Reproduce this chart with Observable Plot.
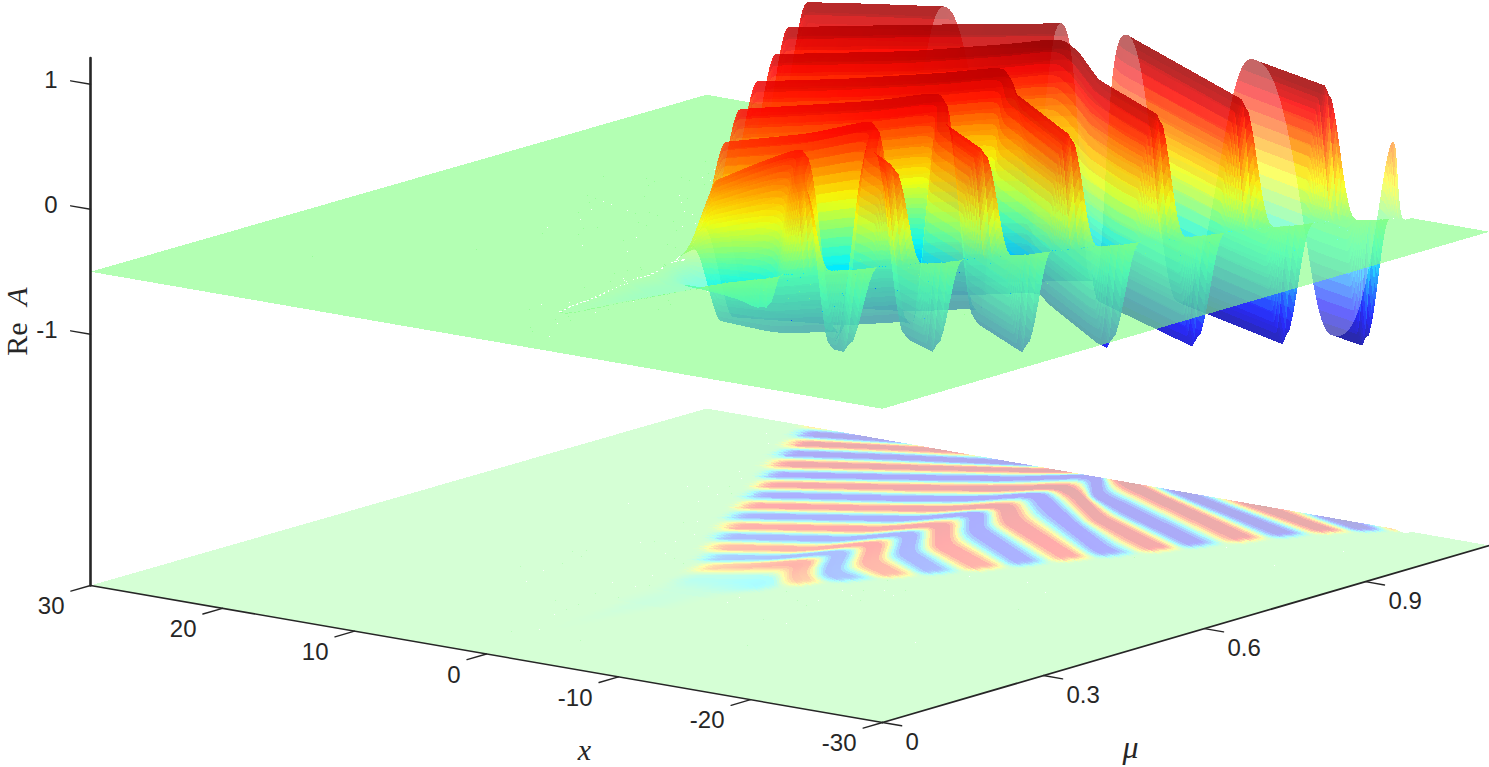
<!doctype html>
<html><head><meta charset="utf-8">
<script src="https://cdn.jsdelivr.net/npm/d3@7"></script>
<script src="https://cdn.jsdelivr.net/npm/@observablehq/plot@0.6"></script>
<style>html,body{margin:0;padding:0;background:#fff}svg{display:block}</style>
</head><body><div id="chart"></div>
<script>
// Axis ticks
const xTicks = [30, 20, 10, 0, -10, -20, -30];
const muTicks = [0, 0.3, 0.6, 0.9];
const zTicks = [1, 0, -1];
const muMax = 1.131;
const zFloor = -3.01;   // level of the lower map
const zPlane = -0.5;    // level of the upper surface at rest
const zTop = 1.21;

// Crests (C) and troughs (T): [x knots], [mu knots], [height Re A]
const base = [[30, -30], [0.06, 0.06], [0, 0]];
const tail = [[30, -30], [0.38, 0.38], [-0.06, -0.06]];
const T8 = [[4, 1, -1, -2.5, -4], [0.44, 0.47, 0.5, 0.46, 0.44], [-0.14, -0.2, -0.3, -0.3, -0.15]];
const C7 = [[3.85, 1.56, -0.08, -1.38, -3.51], [0.506, 0.555, 0.601, 0.545, 0.511], [0.55, 0.72, 0.82, 0.72, 0.6]];
const T7 = [[5.3, 1.89, 0, -2.95, -5], [0.547, 0.594, 0.665, 0.568, 0.555], [-0.6, -0.72, -0.75, -0.72, -0.7]];
const C6 = [[6.85, 1.69, -0.19, -3.19, -6.65], [0.592, 0.651, 0.723, 0.637, 0.601], [0.72, 0.82, 0.88, 0.8, 0.75]];
const T6 = [[8.29, 1.77, -0.27, -3.25, -7.98], [0.64, 0.715, 0.789, 0.703, 0.643], [-0.75, -0.8, -0.82, -0.8, -0.76]];
const C5 = [[9.64, 1.86, -0.3, -3.88, -9.68], [0.685, 0.779, 0.844, 0.756, 0.694], [0.82, 0.92, 0.95, 0.88, 0.82]];
const T5 = [[11.01, 1.94, -0.1, -2.69, -10.84], [0.734, 0.843, 0.917, 0.847, 0.74], [-0.8, -0.85, -0.88, -0.86, -0.84]];
const C4 = [[12.27, 7.01, 2.02, -0.25, -3.32, -12.22], [0.781, 0.844, 0.907, 0.963, 0.9, 0.793], [0.88, 0.92, 0.98, 1, 0.94, 0.86]];
const T4 = [[13.7, 5.25, 2.11, 0.11, -2.29, -11.82, -13.55], [0.832, 0.925, 0.972, 1.034, 0.993, 0.852, 0.835], [-0.85, -0.87, -0.88, -0.9, -0.9, -0.88, -0.87]];
const C3 = [[14.96, 7.18, 2.19, 0.11, -2.06, -6.86, -15.07], [0.878, 0.972, 1.036, 1.077, 1.055, 0.974, 0.89], [0.93, 0.98, 1.05, 1.08, 1.04, 1, 0.95]];
const T3 = [[16.2, 8.84, 3.85, 0.31, -2.84, -15.83], [0.925, 1.013, 1.076, 1.151, 1.067, 0.934], [-0.9, -0.92, -0.94, -0.95, -0.95, -0.94]];
const C2 = [[17.7, 10.5, 2.3, 0.3, -2.05, -17.35], [0.974, 1.054, 1.15, 1.17, 1.143, 0.99], [0.98, 1.03, 1.07, 1.07, 1.07, 0.99]];
const T2 = [[19.1, 12.46, 5.54, 1, -1, -6.21, -18.84], [1.023, 1.089, 1.149, 1.2, 1.2, 1.139, 1.034], [-0.95, -0.97, -1, -1, -1, -1, -1]];
const C1 = [[20.4, 16.4, 11.2, 5, 0, -3, -11.44, -20.34], [1.069, 1.107, 1.152, 1.21, 1.25, 1.22, 1.141, 1.078], [1.02, 1.03, 1.04, 1.05, 1.05, 1.05, 1.05, 1.04]];
const T1 = [[21.7, 16.4, 10, 0, -5, -10, -17.26, -21], [1.115, 1.15, 1.2, 1.3, 1.28, 1.22, 1.141, 1.115], [-1, -1, -1, -1.02, -1.03, -1.04, -1.05, -1.05]];
const C0 = [[23, 16, 0, -10, -22.8], [1.16, 1.2, 1.35, 1.3, 1.134], [1, 1, 1, 1, 0.62]];
const ridges = [base, tail, T8, C7, T7, C6, T6, C5, T5, C4, T4, C3, T3, C2, T2, C1, T1, C0];

// Where the pattern dies away on either side, per mu
const edgeMu = [0.06, 0.25, 0.4, 0.5, 0.59, 0.685, 0.78, 0.88, 0.97, 1.03, 1.07, 1.11, 1.13];
const edgePos = [1.8, 2.3, 3.6, 5.1, 8.1, 10.9, 13.5, 16.2, 19, 20.6, 21.6, 22.7, 23.2];
const edgeNeg = [0.2, -0.6, -2.2, -4.5, -7.6, -10.7, -13.2, -16, -18.2, -19.8, -21, -23, -24.3];

// Jet colour stops
const jetAt = [-1.07, -0.8025, -0.2675, 0.2675, 0.8025, 1.07];
const jetColors = ["#000080", "#0000ff", "#00ffff", "#ffff00", "#ff0000", "#800000"];

// The four corners of the lower map on the view plane
const cornerA = [90, 585], cornerB = [882, 722], cornerC = [1489, 545], cornerD = [706, 408];
const zUnit = 125;

function project(x, mu, z) {
  const u = (x + 30) / 60, v = mu / muMax;
  const w = [(1 - u) * (1 - v), u * (1 - v), (1 - u) * v, u * v];
  const c = [cornerB, cornerA, cornerC, cornerD];
  const sx = d3.sum(c, (p, i) => p[0] * w[i]);
  const sy = d3.sum(c, (p, i) => p[1] * w[i]) - (z - zFloor) * zUnit;
  return [sx, sy];
}

const easeH = t => t * t * t * (t * (6 * t - 15) + 10);
const easeS = t => t * t * (3 - 2 * t);
const ease = t => 0.55 * easeH(t) + 0.45 * easeS(t);
const step = t => easeS(Math.max(0, Math.min(1, t)));
const tCache = new Map();
const tNodes = (n) => {
  if (!tCache.has(n)) tCache.set(n, d3.range(n + 1).map(i => {
    let lo = 0, hi = 1, y = i / n;
    for (let k = 0; k < 30; k++) { const m = (lo + hi) / 2; if (ease(m) < y) lo = m; else hi = m; }
    return (lo + hi) / 2;
  }));
  return tCache.get(n);
};
const edgeP = d3.scaleLinear().domain(edgeMu).range(edgePos);
const edgeN = d3.scaleLinear().domain(edgeMu).range(edgeNeg);
const fade = (x, mu) => step((edgeP(mu) - x) / 2) * step((x - edgeN(mu)) / 2);

const dx = 0.125;
const gridX = d3.range(0, 385).map(i => 24 - i * dx);
function smooth(a) {
  for (let p = 0; p < 2; p++) {
    a = a.map((_, i) => d3.mean(a.slice(Math.max(0, i - 4), i + 5)));
  }
  return a;
}
// beyond a ridge's own end it carries on along its last stretch; the fade has taken it to rest by then
const ridgeMu = ridges.map(r => {
  const s = d3.scaleLinear().domain(r[0]).range(r[1]);
  return smooth(gridX.map(x => Math.max(r === T8 ? 0.4 : 0.06, Math.min(1.4, s(x)))));
});
const ridgeAmp = ridges.map(r => {
  const s = d3.scaleLinear().domain(r[0]).range(r[2]).clamp(true);
  return smooth(gridX.map(s));
});

function line(j, N) {
  const x = gridX[j], T = tNodes(N), out = [{ mu: 0, a: 0 }];
  const pers = 1 - 0.02 * (x + 30) / 60;
  for (let k = 0; k + 1 < ridges.length; k++) {
    const m0 = ridgeMu[k][j] * pers, m1 = ridgeMu[k + 1][j] * pers;
    const a0 = ridgeAmp[k][j], a1 = ridgeAmp[k + 1][j];
    for (let i = k === 0 ? 0 : 1; i <= N; i++) {
      let t = T[i], mu = m0 + t * (m1 - m0);
      if (mu > muMax) { mu = muMax; t = Math.max(0, Math.min(1, (muMax - m0) / (m1 - m0))); }
      out.push({ mu, a: (a0 + (a1 - a0) * ease(t)) * fade(x, mu) });
    }
  }
  return out;
}

let nextId = 0;
function mesh(z, stride, N) {
  const rows = [];
  const poly = (pts, v) => {
    const id = nextId++;
    pts.forEach(([x, mu, a]) => { const [sx, sy] = project(x, mu, z(a)); rows.push({ sx, sy, id, v }); });
  };
  poly([[30, muMax, 0], [24, muMax, 0], [24, 0, 0], [30, 0, 0]], 0);
  for (let j = 0; j + stride < gridX.length; j += stride) {
    const L0 = line(j, N), L1 = line(j + stride, N), x0 = gridX[j], x1 = gridX[j + stride];
    let run = null;
    const flush = () => {
      if (run) { poly([[x0, run.h0, 0], [x1, run.h1, 0], [x1, run.l1, 0], [x0, run.l0, 0]], 0); run = null; }
    };
    for (let i = L0.length - 2; i >= 0; i--) {
      const a = L0[i + 1], b = L1[i + 1], c = L1[i], d = L0[i];
      if (a.mu >= muMax && d.mu >= muMax && b.mu >= muMax && c.mu >= muMax) continue;
      const flat = Math.max(Math.abs(a.a), Math.abs(b.a), Math.abs(c.a), Math.abs(d.a)) < 0.006;
      if (flat) {
        if (!run) run = { h0: a.mu, h1: b.mu, l0: d.mu, l1: c.mu };
        else { run.l0 = d.mu; run.l1 = c.mu; }
      } else {
        flush();
        poly([[x0, a.mu, a.a], [x1, b.mu, b.a], [x1, c.mu, c.a], [x0, d.mu, d.a]], (a.a + b.a + c.a + d.a) / 4);
      }
    }
    flush();
  }
  poly([[-24, muMax, 0], [-30, muMax, 0], [-30, 0, 0], [-24, 0, 0]], 0);
  return rows;
}
const lower = mesh(() => zFloor, 2, 10);
const upper = mesh(a => zPlane + a, 1, 22);

const X = d => d.p[0], Y = d => d.p[1];
const at = (x, mu, z) => ({ p: project(x, mu, z) });
const tickSegs = [];
const seg = (a, b) => { const id = tickSegs.length; tickSegs.push({ id, ...at(...a) }, { id, ...at(...b) }); };
xTicks.forEach(x => seg([x, 0, zFloor], [x, -0.036, zFloor]));
muTicks.forEach(m => seg([-30, m, zFloor], [-31.45, m, zFloor]));
zTicks.forEach(z => seg([30, 0, z], [31.5, 0, z]));

const ink = "#262626", sans = "'Liberation Sans', Arial, sans-serif", serif = "'Liberation Serif', 'DejaVu Serif', serif";
const labelStyle = { fill: ink, fontFamily: sans, fontSize: 24, lineAnchor: "middle" };
const fmt = v => String(v);

const chart = Plot.plot({
  width: 1489, height: 767, margin: 0,
  style: { background: "white", overflow: "visible" },
  x: { domain: [0, 1489], range: [0, 1489], axis: null },
  y: { domain: [0, 767], range: [0, 767], axis: null },
  color: { type: "linear", domain: jetAt, range: jetColors, clamp: true, legend: false },
  marks: [
    Plot.line(lower, { x: "sx", y: "sy", z: "id", fill: "v", fillOpacity: 0.33, stroke: "none", shapeRendering: "crispEdges" }),
    Plot.line(upper, { x: "sx", y: "sy", z: "id", fill: "v", fillOpacity: 0.6, stroke: "none", shapeRendering: "crispEdges" }),
    Plot.line([at(30, 0, zFloor), at(30, 0, zTop)], { x: X, y: Y, stroke: ink, strokeWidth: 2.6 }),
    Plot.line([at(30, 0, zFloor), at(-30, 0, zFloor)], { x: X, y: Y, stroke: ink, strokeWidth: 1.5 }),
    Plot.line([at(-30, 0, zFloor), at(-30, muMax, zFloor)], { x: X, y: Y, stroke: ink, strokeWidth: 1.8 }),
    Plot.line(tickSegs, { x: X, y: Y, z: "id", stroke: ink, strokeWidth: 1.4 }),
    Plot.text(xTicks, { x: d => project(d, 0, zFloor)[0], y: d => project(d, 0, zFloor)[1], text: fmt, textAnchor: "end", dx: -26, dy: 21, ...labelStyle }),
    Plot.text(muTicks, { x: d => project(-30, d, zFloor)[0], y: d => project(-30, d, zFloor)[1], text: fmt, textAnchor: "start", dx: 23, dy: 20, ...labelStyle }),
    Plot.text(zTicks, { x: d => project(30, 0, d)[0], y: d => project(30, 0, d)[1], text: fmt, textAnchor: "end", dx: -33, dy: -4, ...labelStyle }),
    Plot.text(["x"], { x: [584], y: [750], text: d => d, fontFamily: serif, fontStyle: "italic", fontSize: 30, fill: ink, lineAnchor: "middle" }),
    Plot.text(["μ"], { x: [1130], y: [747], text: d => d, fontFamily: serif, fontStyle: "italic", fontSize: 32, fill: ink, lineAnchor: "middle" }),
    Plot.text(["Re"], { x: [17], y: [338.5], text: d => d, rotate: -90, fontFamily: serif, fontSize: 30, fill: ink, lineAnchor: "middle" }),
    Plot.text(["A"], { x: [17], y: [296], text: d => d, rotate: -90, fontFamily: serif, fontStyle: "italic", fontSize: 30, fill: ink, lineAnchor: "middle" })
  ]
});
document.getElementById("chart").append(chart);
</script></body></html>
